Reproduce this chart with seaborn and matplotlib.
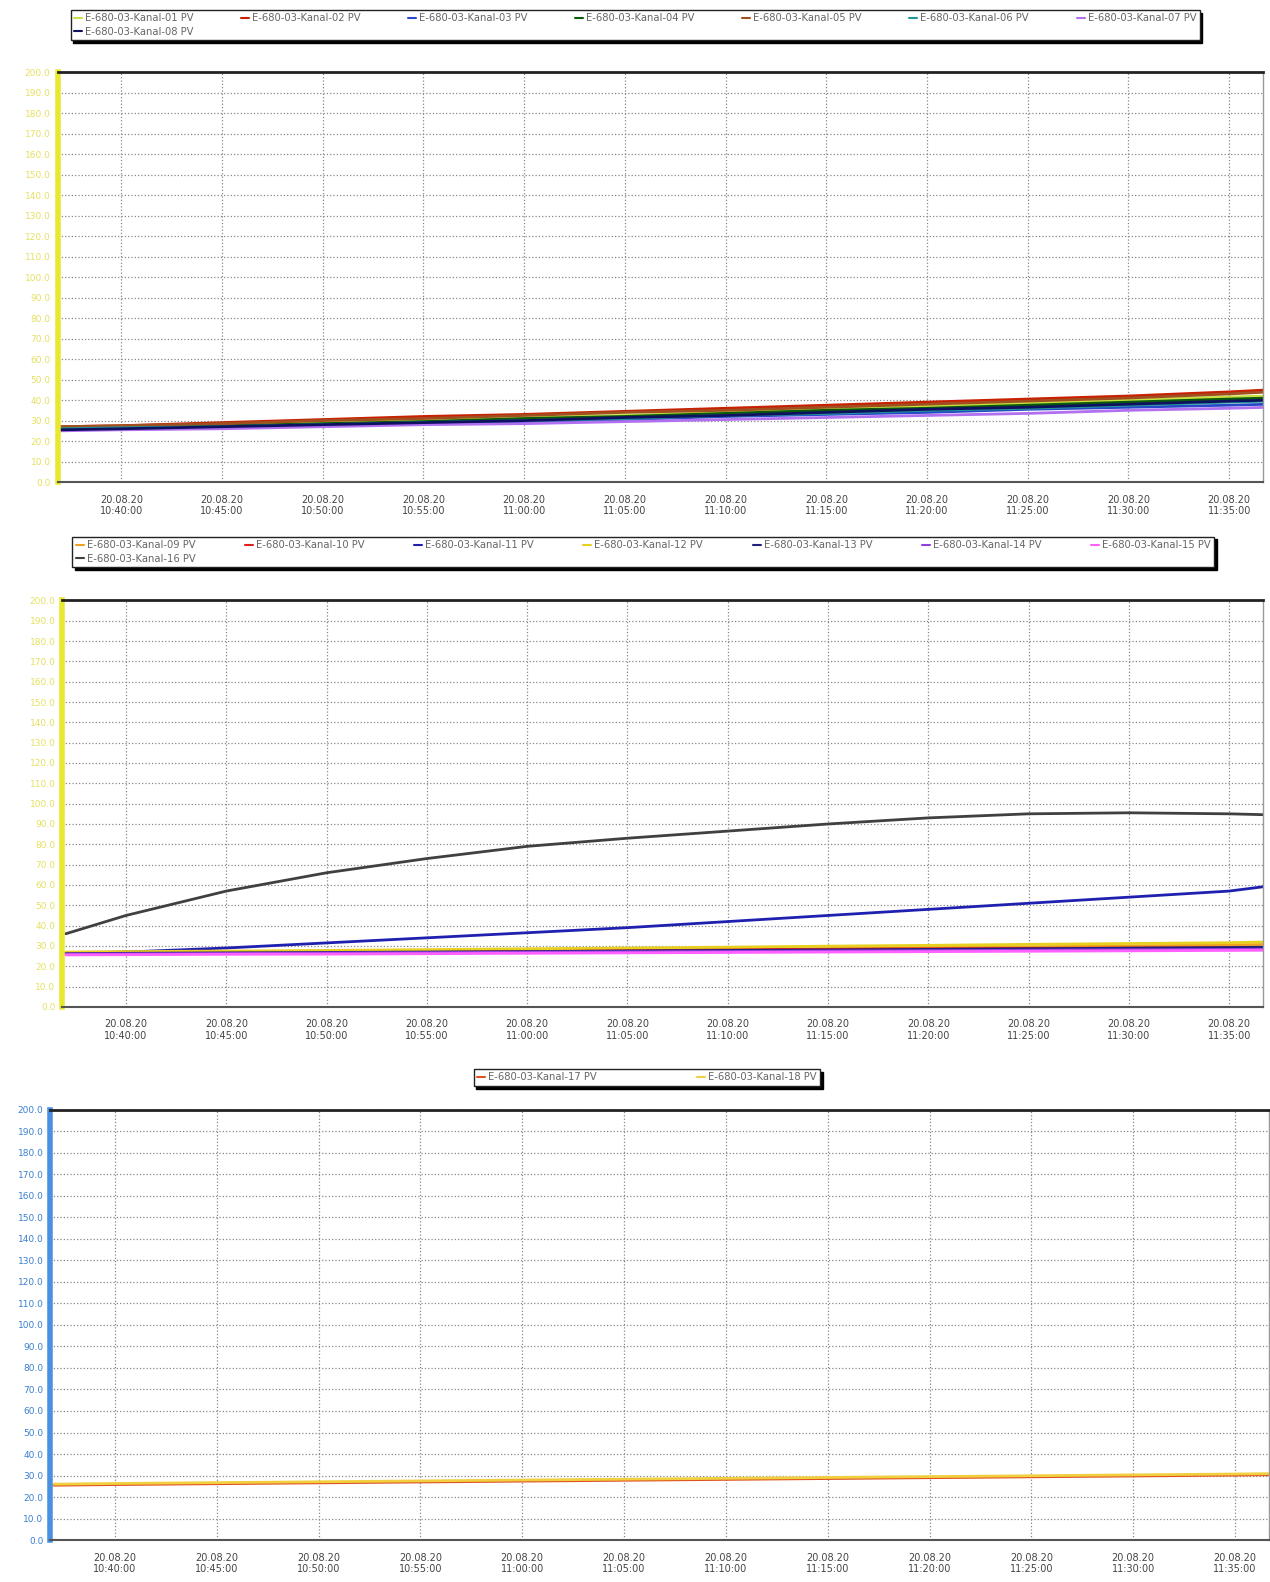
import pandas as pd
import matplotlib
matplotlib.use("Agg")
import matplotlib.pyplot as plt
import matplotlib.dates as mdates
from matplotlib.lines import Line2D
import seaborn as sns

# Zeitpunkte (20.08.20)
times = ["10:37", "10:40", "10:45", "10:50", "10:55", "11:00", "11:05",
         "11:10", "11:15", "11:20", "11:25", "11:30", "11:35", "11:37"]

# Gruppe 1: Kanal 01-08
k01 = [26.5, 27.0, 28.0, 29.0, 30.0, 31.5, 32.5, 34.0, 35.5, 37.0, 38.5, 40.0, 41.5, 42.0]
k02 = [27.0, 27.5, 29.0, 30.5, 32.0, 33.0, 34.5, 36.0, 37.5, 39.0, 40.5, 42.0, 44.0, 45.0]
k03 = [25.5, 26.0, 26.5, 27.5, 28.5, 29.5, 30.5, 32.0, 33.0, 34.0, 35.5, 36.5, 37.5, 38.0]
k04 = [26.0, 26.5, 27.5, 28.5, 29.5, 31.0, 32.0, 33.5, 35.0, 36.0, 37.5, 39.0, 40.5, 41.0]
k05 = [27.0, 27.5, 28.5, 30.0, 31.0, 32.5, 34.0, 35.0, 36.5, 38.0, 39.5, 41.0, 43.0, 44.0]
k06 = [26.0, 26.5, 27.0, 28.0, 29.0, 30.0, 31.0, 32.5, 33.5, 35.0, 36.0, 37.5, 39.0, 39.5]
k07 = [25.0, 25.5, 26.0, 27.0, 28.0, 28.5, 29.5, 30.5, 31.5, 32.5, 33.5, 35.0, 36.0, 36.5]
k08 = [25.5, 26.0, 27.0, 28.0, 29.0, 30.0, 31.5, 32.5, 34.0, 35.5, 36.5, 38.0, 39.5, 40.0]

# Gruppe 2: Kanal 09-16
k09 = [26.5, 26.5, 26.8, 27.0, 27.3, 27.6, 28.0, 28.3, 28.7, 29.2, 29.6, 30.0, 30.5, 30.8]
k10 = [26.8, 27.0, 27.2, 27.4, 27.6, 27.8, 28.0, 28.2, 28.4, 28.6, 28.8, 29.0, 29.2, 29.3]
k11 = [26.5, 27.0, 29.0, 31.5, 34.0, 36.5, 39.0, 42.0, 45.0, 48.0, 51.0, 54.0, 57.0, 59.5]
k12 = [27.0, 27.2, 27.5, 27.8, 28.2, 28.6, 29.0, 29.4, 29.9, 30.3, 30.8, 31.2, 31.6, 32.0]
k13 = [26.2, 26.4, 26.6, 26.8, 27.0, 27.2, 27.5, 27.8, 28.0, 28.3, 28.6, 28.9, 29.2, 29.4]
k14 = [26.0, 26.1, 26.3, 26.5, 26.7, 26.9, 27.1, 27.3, 27.5, 27.7, 27.9, 28.1, 28.3, 28.4]
k15 = [25.6, 25.7, 25.9, 26.0, 26.2, 26.4, 26.6, 26.8, 27.0, 27.2, 27.4, 27.6, 27.8, 27.9]
k16 = [36.0, 45.0, 57.0, 66.0, 73.0, 79.0, 83.0, 86.5, 90.0, 93.0, 95.0, 95.5, 95.0, 94.5]

# Gruppe 3: Kanal 17-18
k17 = [25.5, 25.8, 26.2, 26.6, 27.0, 27.4, 27.8, 28.2, 28.6, 29.0, 29.4, 29.8, 30.2, 30.4]
k18 = [26.0, 26.3, 26.7, 27.1, 27.5, 27.9, 28.3, 28.7, 29.1, 29.5, 29.9, 30.3, 30.7, 30.9]

yticks = list(range(0, 201, 10))

groups = [
    {"01": k01, "02": k02, "03": k03, "04": k04, "05": k05, "06": k06, "07": k07, "08": k08},
    {"09": k09, "10": k10, "11": k11, "12": k12, "13": k13, "14": k14, "15": k15, "16": k16},
    {"17": k17, "18": k18},
]
colors = {
    "01": "#c8e040", "02": "#c82000", "03": "#2848c8", "04": "#0a5a0a",
    "05": "#a05020", "06": "#209898", "07": "#b070f0", "08": "#101060",
    "09": "#f0a020", "10": "#e02020", "11": "#2020b0", "12": "#e8d020",
    "13": "#202080", "14": "#9040e0", "15": "#ff60ff", "16": "#404040",
    "17": "#e05020", "18": "#f0d040",
}

sns.set_style("white")
plt.rcParams["font.family"] = ["DejaVu Sans"]

fig = plt.figure(figsize=(12.7, 15.82), dpi=100)
axes_pos = [
    [0.0453, 0.6953, 0.949, 0.259],
    [0.0492, 0.3635, 0.945, 0.257],
    [0.0397, 0.0265, 0.9595, 0.272],
]
legend_anchor = [(0.0516, 0.997), (0.053, 0.664), (0.369, 0.3275)]
legend_colsp = [4.75, 4.95, 10.0]
axis_color = ["#e8e830", "#e8e830", "#4a90e0"]
label_color = ["#e6e060", "#e6e060", "#3a80d0"]

start = pd.Timestamp("2020-08-20 10:36:50")
end = pd.Timestamp("2020-08-20 11:36:40")

for i, grp in enumerate(groups):
    ax = fig.add_axes(axes_pos[i])
    rows = []
    for ch, vals in grp.items():
        for t, v in zip(times, vals):
            rows.append({"Zeit": pd.Timestamp("2020-08-20 " + t), "Wert": v,
                         "Kanal": ch})
    df = pd.DataFrame(rows)
    sns.lineplot(data=df, x="Zeit", y="Wert", hue="Kanal", palette=colors,
                 linewidth=2.0, legend=False, ax=ax)

    ax.set_xlim(start, end)
    ax.set_ylim(0, 200)
    ax.set_yticks(yticks)
    ax.set_yticklabels([f"{v:.1f}" for v in yticks], fontsize=6.5,
                       color=label_color[i])
    ax.xaxis.set_major_locator(mdates.MinuteLocator(byminute=range(0, 60, 5)))
    ax.xaxis.set_minor_locator(mdates.MinuteLocator())
    ax.xaxis.set_major_formatter(mdates.DateFormatter("%d.%m.%y\n%H:%M:%S"))
    ax.tick_params(axis="x", labelsize=7, colors="#444444", length=5, width=0.8,
                   direction="out", pad=4)
    ax.tick_params(axis="x", which="minor", length=3, color="#666666")
    ax.tick_params(axis="y", length=3, color=axis_color[i], pad=2)
    ax.set_xlabel("")
    ax.set_ylabel("")
    ax.grid(True, axis="both", which="major", linestyle=":", color="#888888",
            linewidth=0.9)

    ax.spines["left"].set_color(axis_color[i])
    ax.spines["left"].set_linewidth(4)
    ax.spines["top"].set_color("#222222")
    ax.spines["top"].set_linewidth(2)
    ax.spines["bottom"].set_color("#555555")
    ax.spines["bottom"].set_linewidth(1.5)
    ax.spines["right"].set_color("#999999")
    ax.spines["right"].set_linewidth(1)

    # Legende: erste Zeile 7 Einträge, zweite Zeile der achte
    chans = list(grp.keys())
    if len(chans) == 8:
        order = [chans[0], chans[7]] + chans[1:7]
        ncol = 7
    else:
        order = chans
        ncol = 2
    handles = [Line2D([], [], color=colors[c], linewidth=1.5) for c in order]
    labels = [f"E-680-03-Kanal-{c} PV" for c in order]
    leg = fig.legend(handles, labels, loc="upper left",
                     bbox_to_anchor=legend_anchor[i], ncol=ncol, fontsize=7.2,
                     frameon=True, fancybox=False,
                     shadow={"color": "black", "alpha": 1.0},
                     handlelength=0.8, handletextpad=0.3,
                     columnspacing=legend_colsp[i], borderpad=0.35,
                     labelspacing=0.35, edgecolor="#222222")
    leg.get_frame().set_linewidth(1.0)
    for txt in leg.get_texts():
        txt.set_color("#666666")

fig.savefig("out.png", dpi=100)
